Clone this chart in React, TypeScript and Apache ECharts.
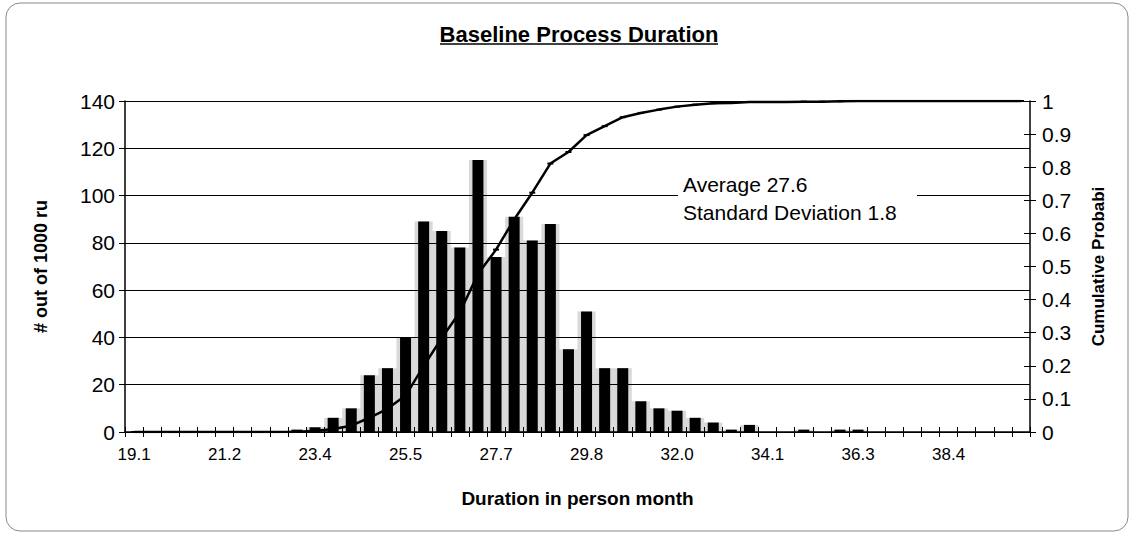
import React, { useEffect, useRef } from "react";
import * as echarts from "echarts";

const durations = [
  "19.1", "19.5", "20.0", "20.4", "20.8", "21.2", "21.7", "22.1", "22.5", "23.0",
  "23.4", "23.8", "24.2", "24.7", "25.1", "25.5", "26.0", "26.4", "26.8", "27.2",
  "27.7", "28.1", "28.5", "29.0", "29.4", "29.8", "30.3", "30.7", "31.1", "31.5",
  "32.0", "32.4", "32.8", "33.3", "33.7", "34.1", "34.5", "35.0", "35.4", "35.8",
  "36.3", "36.7", "37.1", "37.5", "38.0", "38.4", "38.8", "39.3", "39.7", "40.1",
];

const runCounts = [
  0, 0, 0, 0, 0, 0, 0, 0, 0, 1,
  2, 6, 10, 24, 27, 40, 89, 85, 78, 115,
  74, 91, 81, 88, 35, 51, 27, 27, 13, 10,
  9, 6, 4, 1, 3, 0, 0, 1, 0, 1,
  1, 0, 0, 0, 0, 0, 0, 0, 0, 0,
];

const cumulativeProb = [
  0, 0, 0, 0, 0, 0, 0, 0, 0, 0.001,
  0.003, 0.009, 0.019, 0.043, 0.07, 0.11, 0.199, 0.284, 0.362, 0.477,
  0.551, 0.642, 0.723, 0.811, 0.846, 0.897, 0.924, 0.951, 0.964, 0.974,
  0.983, 0.989, 0.993, 0.994, 0.997, 0.997, 0.997, 0.998, 0.998, 0.999,
  1, 1, 1, 1, 1, 1, 1, 1, 1, 1,
];

const titleText = "Baseline Process Duration";
const xName = "Duration in person month";
const yLeftName = "# out of 1000 ru";
const yRightName = "Cumulative Probabi";
const noteLines = ["Average 27.6", "Standard Deviation 1.8"];

const FONT = "'Liberation Sans', Arial, sans-serif";

export default function App() {
  const ref = useRef<HTMLDivElement>(null);
  useEffect(() => {
    if (!ref.current) return;
    const chart = echarts.init(ref.current, null, { renderer: "svg" });
    chart.setOption({
      animation: false,
      backgroundColor: "#ffffff",
      textStyle: { fontFamily: FONT, color: "#000" },
      grid: { left: 125, right: 104, top: 101, bottom: 104, containLabel: false },
      xAxis: [
        {
          type: "category",
          data: durations,
          position: "bottom",
          boundaryGap: true,
          axisLine: { show: true, lineStyle: { color: "#000", width: 1.5 } },
          axisTick: { show: true, interval: 0, length: 5, inside: false, lineStyle: { color: "#000", width: 1 } },
          axisLabel: { interval: 4, color: "#000", fontSize: 17, fontFamily: FONT, margin: 14 },
          splitLine: { show: false },
          name: xName,
          nameLocation: "middle",
          nameGap: 57,
          nameTextStyle: { fontSize: 19, fontWeight: "bold", color: "#000", fontFamily: FONT },
        },
        {
          type: "category",
          data: durations,
          position: "bottom",
          boundaryGap: true,
          axisLine: { show: false },
          axisTick: { show: true, interval: 0, length: 5, inside: true, lineStyle: { color: "#000", width: 1 } },
          axisLabel: { show: false },
          splitLine: { show: false },
        },
      ],
      yAxis: [
        {
          type: "value",
          min: 0,
          max: 140,
          interval: 20,
          position: "left",
          axisLine: { show: true, lineStyle: { color: "#000", width: 1.5 } },
          axisTick: { show: true, length: 6, lineStyle: { color: "#000" } },
          axisLabel: { color: "#000", fontSize: 21, fontFamily: FONT, margin: 10 },
          splitLine: { show: true, lineStyle: { color: "#000", width: 1 } },
          name: yLeftName,
          nameLocation: "middle",
          nameGap: 75,
          nameRotate: 90,
          nameTextStyle: { fontSize: 18, fontWeight: "bold", color: "#000", fontFamily: FONT },
        },
        {
          type: "value",
          min: 0,
          max: 1,
          interval: 0.1,
          position: "right",
          axisLine: { show: true, lineStyle: { color: "#000", width: 1.5 } },
          axisTick: { show: true, length: 6, lineStyle: { color: "#000" } },
          axisLabel: { color: "#000", fontSize: 21, fontFamily: FONT, margin: 12 },
          splitLine: { show: false },
          name: yRightName,
          nameLocation: "middle",
          nameGap: 60,
          nameRotate: 90,
          nameTextStyle: { fontSize: 17, fontWeight: "bold", color: "#000", fontFamily: FONT },
        },
        {
          type: "value",
          min: 0,
          max: 1,
          interval: 0.1,
          position: "right",
          axisLine: { show: false },
          axisTick: { show: true, inside: true, length: 6, lineStyle: { color: "#000" } },
          axisLabel: { show: false },
          splitLine: { show: false },
        },
      ],
      series: [
        {
          name: "halo",
          type: "bar",
          xAxisIndex: 1,
          yAxisIndex: 0,
          data: runCounts,
          barWidth: "100%",
          itemStyle: { color: "rgba(0,0,0,0.15)" },
          z: 1,
          silent: true,
        },
        {
          name: "runs",
          type: "bar",
          xAxisIndex: 0,
          yAxisIndex: 0,
          data: runCounts,
          barWidth: 11,
          itemStyle: { color: "#000" },
          z: 2,
        },
        {
          name: "cumulative",
          type: "line",
          xAxisIndex: 0,
          yAxisIndex: 1,
          data: cumulativeProb,
          symbol: "rect",
          symbolSize: [6, 2],
          itemStyle: { color: "#000" },
          lineStyle: { color: "#000", width: 2.5 },
          z: 3,
        },
      ],
      graphic: [
        {
          type: "rect",
          z: 0,
          shape: { x: 6, y: 3, width: 1122, height: 528, r: 14 },
          style: { fill: "none", stroke: "#888", lineWidth: 1 },
        },
        {
          type: "text",
          z: 100,
          x: 579,
          y: 34,
          style: {
            text: titleText,
            font: `bold 22px ${FONT}`,
            fill: "#000",
            textAlign: "center",
            textVerticalAlign: "middle",
          },
        },
        {
          type: "line",
          z: 100,
          shape: { x1: 440, y1: 44, x2: 718, y2: 44 },
          style: { stroke: "#000", lineWidth: 1.5 },
        },
        {
          type: "rect",
          z: 100,
          shape: { x: 678, y: 166, width: 239, height: 62 },
          style: { fill: "#fff" },
        },
        {
          type: "text",
          z: 101,
          x: 683,
          y: 184,
          style: {
            text: noteLines[0],
            font: `21px ${FONT}`,
            fill: "#000",
            textAlign: "left",
            textVerticalAlign: "middle",
          },
        },
        {
          type: "text",
          z: 101,
          x: 683,
          y: 212,
          style: {
            text: noteLines[1],
            font: `21px ${FONT}`,
            fill: "#000",
            textAlign: "left",
            textVerticalAlign: "middle",
          },
        },
      ],
    });
    return () => chart.dispose();
  }, []);
  return (
    <div
      ref={ref}
      style={{ position: "fixed", left: 0, top: 0, width: 1134, height: 536, background: "#fff" }}
    />
  );
}
